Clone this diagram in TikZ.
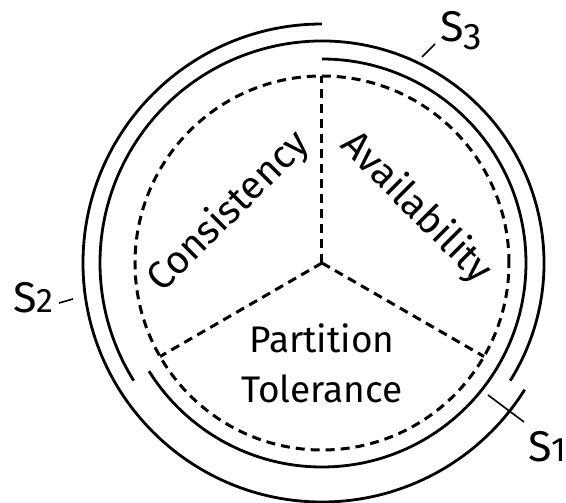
\documentclass[tikz,border=0pt]{standalone}
\usepackage{fontspec}
\setmainfont{Fira Sans}

\begin{document}
\begin{tikzpicture}[
    x=1pt, y=1pt,
    ring/.style={line width=2.8pt},
    sector/.style={line width=3pt, dash pattern=on 9pt off 6pt},
    tick/.style={line width=1.6pt},
    prop/.style={font=\fontsize{37}{42}\selectfont},
    sys/.style={font=\fontsize{43}{48}\selectfont, anchor=base west, inner sep=0pt}
]
    \useasboundingbox (-322,-240) rectangle (244,263);

    % three sectors
    \coordinate (o) at (0,0);
    \coordinate (ca) at (90:187);
    \coordinate (cp) at (210:187);
    \coordinate (ap) at (330:187);
    \draw[sector] (o) circle[radius=187];
    \draw[sector] (o) -- (ca);
    \draw[sector] (o) -- (cp);
    \draw[sector] (o) -- (ap);

    % properties
    \node[prop, font=\fontsize{39}{44}\selectfont, rotate=45] (cons) at (-93,51) {Consistency};
    \node[prop, font=\fontsize{39}{44}\selectfont, rotate=-45] (avail) at (94,55) {Availability};
    \node[prop, anchor=base] (parta) at (0,-90) {Partition};
    \node[prop, anchor=base] (partb) at (0,-140) {Tolerance};

    % systems
    \draw[ring] (90:204) arc[start angle=90, end angle=-148, radius=204];
    \draw[ring] (-32:222) arc[start angle=-32, end angle=212, radius=222];
    \draw[ring] (90:239) arc[start angle=90, end angle=328, radius=239];

    % labels (old style figures)
    \node[sys] (s1) at (206,-199) {S\fontsize{34}{34}\selectfont 1};
    \node[sys] (s2) at (-309,-50) {S\fontsize{34}{34}\selectfont 2};
    \node[sys] (s3) at (118,221) {S\raisebox{-8pt}{\fontsize{37}{37}\selectfont 3}};
    \coordinate (t1a) at (166,-132);
    \coordinate (t1b) at (202,-159);
    \coordinate (t2a) at (-249,-36);
    \coordinate (t2b) at (-263,-40);
    \coordinate (t3a) at (100,206);
    \coordinate (t3b) at (113,219);
    \draw[tick] (t1a) -- (t1b);
    \draw[tick] (t2a) -- (t2b);
    \draw[tick] (t3a) -- (t3b);
\end{tikzpicture}
\end{document}
